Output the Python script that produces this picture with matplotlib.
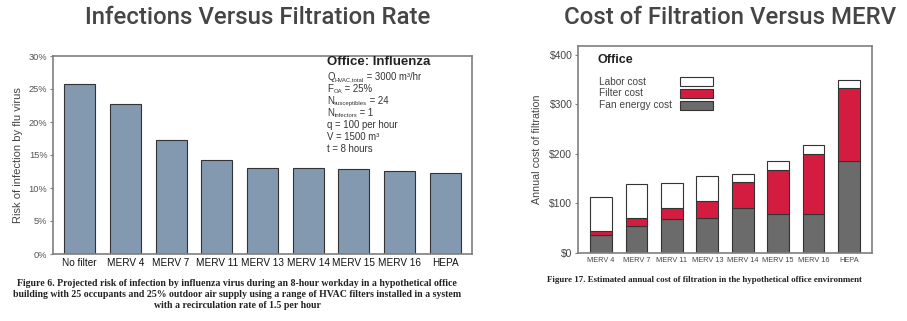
import numpy as np
import matplotlib
matplotlib.use('Agg')
import matplotlib.pyplot as plt
import matplotlib.ticker as ticker
from matplotlib.patches import Rectangle

plt.rcParams['font.family'] = ['Liberation Sans', 'DejaVu Sans']

# Data: infection risk by filter
risk_labels = ['No filter', 'MERV 4', 'MERV 7', 'MERV 11', 'MERV 13',
               'MERV 14', 'MERV 15', 'MERV 16', 'HEPA']
risk_pct = [25.7, 22.8, 17.3, 14.3, 13.1, 13.0, 12.9, 12.6, 12.2]

# Data: annual cost of filtration (stacked)
cost_labels = ['MERV 4', 'MERV 7', 'MERV 11', 'MERV 13', 'MERV 14',
               'MERV 15', 'MERV 16', 'HEPA']
fan_cost = [36, 55, 69, 70, 91, 79, 78, 185]
filter_cost = [9, 16, 22, 34, 52, 89, 122, 149]
labor_cost = [68, 68, 50, 51, 16, 17, 18, 16]

# Colors
bar_blue = '#8399b0'
edge = '#333333'
red = '#d41c41'
gray = '#6b6b6b'
axis_gray = '#7f7f7f'
title_gray = '#454545'

fig = plt.figure(figsize=(9.07, 3.21), dpi=100)

################################
# Left: infections vs filtration
################################
ax1 = fig.add_axes([53/907, 1-254/321, 419/907, 198/321])
x1 = np.arange(len(risk_labels))
ax1.bar(x1, risk_pct, width=0.68, color=bar_blue, edgecolor=edge, linewidth=0.8)
ax1.set_xlim(-0.585, len(risk_labels) - 1 + 0.585)
ax1.set_ylim(0, 30)
ax1.yaxis.set_major_locator(ticker.MultipleLocator(5))
ax1.yaxis.set_major_formatter(ticker.FuncFormatter(lambda v, p: '%d%%' % v))
ax1.set_xticks(x1)
ax1.set_xticklabels(risk_labels, fontsize=7.2, color='#111111')
ax1.tick_params(axis='x', length=0, pad=3)
ax1.tick_params(axis='y', labelsize=6.7, labelcolor='#555555', length=2.5,
                width=0.8, color=axis_gray, pad=1.5)
ax1.set_ylabel('Risk of infection by flu virus', fontsize=8, color='#444444', labelpad=4)
for s in ax1.spines.values():
    s.set_color(axis_gray)
    s.set_linewidth(1.2)

ax1.text(0.655, 0.972, 'Office: Influenza', transform=ax1.transAxes,
         fontsize=9.5, fontweight='bold', color='#222222', va='center')

# parameter block: (symbol, subscript, rest of line)
params = [('Q', 'HVAC,total', ' = 3000 m\u00b3/hr'),
          ('F', 'OA', ' = 25%'),
          ('N', 'susceptibles', ' = 24'),
          ('N', 'infectors', ' = 1'),
          ('q = 100 per hour', '', ''),
          ('V = 1500 m\u00b3', '', ''),
          ('t = 8 hours', '', '')]
for i, (sym, sub, rest) in enumerate(params):
    base = ax1.text(0.655, 0.895 - i * 0.0606, sym, transform=ax1.transAxes,
                    fontsize=6.9, color='#333333', va='center')
    if sub:
        s = ax1.annotate(sub, xy=(1, 0), xycoords=base, fontsize=4.3,
                         color='#333333', va='bottom', ha='left')
        ax1.annotate(rest, xy=(1, 0), xycoords=(s, base), fontsize=6.9,
                     color='#333333', va='bottom', ha='left')

fig.text(258/907, 1-17/321, 'Infections Versus Filtration Rate', ha='center',
         va='center', fontsize=17.3, family='Roboto', fontweight='medium', color=title_gray)

cap1 = ['Figure 6. Projected risk of infection by influenza virus during an 8-hour workday in a hypothetical office',
        'building with 25 occupants and 25% outdoor air supply using a range of HVAC filters installed in a system',
        'with a recirculation rate of 1.5 per hour']
for i, line in enumerate(cap1):
    fig.text(237/907, 1-(284 + i * 10.5)/321, line, ha='center', va='center', fontsize=7.1,
             family='Liberation Serif', fontweight='bold', color='#222222')

################################
# Right: cost of filtration
################################
ax2 = fig.add_axes([578/907, 1-253/321, 294/907, 207/321])
x2 = np.arange(len(cost_labels))
w = 0.61
fan = np.array(fan_cost)
filt = np.array(filter_cost)
lab = np.array(labor_cost)
ax2.bar(x2, fan, width=w, color=gray, edgecolor=edge, linewidth=0.8)
ax2.bar(x2, filt, width=w, bottom=fan, color=red, edgecolor=edge, linewidth=0.8)
ax2.bar(x2, lab, width=w, bottom=fan + filt, color='white', edgecolor=edge, linewidth=0.8)
ax2.set_xlim(-0.65, len(cost_labels) - 1 + 0.65)
ax2.set_ylim(0, 418)
ax2.yaxis.set_major_locator(ticker.MultipleLocator(100))
ax2.yaxis.set_major_formatter(ticker.FuncFormatter(lambda v, p: '$%d' % v))
ax2.set_xticks(x2)
ax2.set_xticklabels(cost_labels, fontsize=5.3, color='#444444')
ax2.tick_params(axis='x', length=0, pad=3)
ax2.tick_params(axis='y', labelsize=7.5, labelcolor='#444444', length=2.5,
                width=0.8, color=axis_gray, pad=1.5)
ax2.set_ylabel('Annual cost of filtration', fontsize=7.7, color='#444444', labelpad=5)
for s in ax2.spines.values():
    s.set_color(axis_gray)
    s.set_linewidth(1.2)

# legend, drawn as text + boxes (labels left, boxes right)
ax2.text(0.068, 0.932, 'Office', transform=ax2.transAxes, fontsize=9,
         fontweight='bold', color='#222222', va='center')
leg_labels = ['Labor cost', 'Filter cost', 'Fan energy cost']
leg_colors = ['white', red, gray]
leg_y = [0.827, 0.771, 0.714]
for lbl, c, yy in zip(leg_labels, leg_colors, leg_y):
    ax2.text(0.071, yy, lbl, transform=ax2.transAxes, fontsize=7.3,
             color='#444444', va='center')
    ax2.add_patch(Rectangle((0.347, yy - 0.0225), 0.112, 0.045, transform=ax2.transAxes,
                            facecolor=c, edgecolor=edge, linewidth=0.8))

fig.text(730/907, 1-17/321, 'Cost of Filtration Versus MERV', ha='center',
         va='center', fontsize=17.3, family='Roboto', fontweight='medium', color=title_gray)

fig.text(704/907, 1-280/321,
         'Figure 17. Estimated annual cost of filtration in the hypothetical office environment',
         ha='center', va='center', fontsize=6.4, family='Liberation Serif',
         fontweight='bold', color='#222222')

plt.savefig('out.png', dpi=100)
